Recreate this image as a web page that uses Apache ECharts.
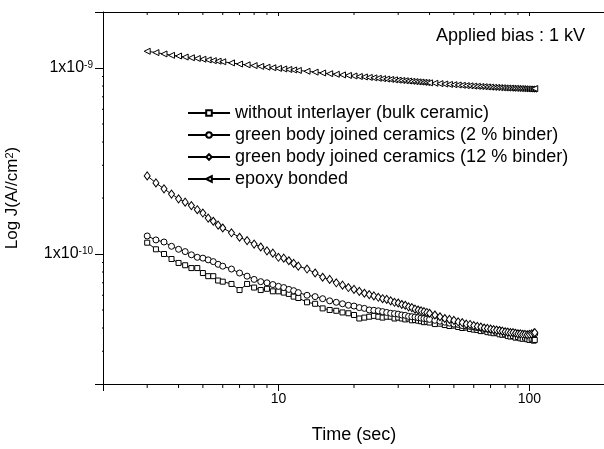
<!DOCTYPE html>
<html>
<head>
<meta charset="utf-8">
<title>Log J vs time</title>
<script src="https://cdn.jsdelivr.net/npm/echarts@6/dist/echarts.min.js"></script>
<style>
  html, body { margin: 0; padding: 0; background: #fff; }
  #chart { width: 604px; height: 449px; }
</style>
</head>
<body>
<div id="chart"></div>
<script>
// time (sec)
var time = [3, 3.25, 3.5, 3.75, 4, 4.25, 4.5, 4.75, 5, 5.25, 5.5, 5.75, 6,
  6.5, 7, 7.5, 8, 8.5, 9, 9.5, 10, 10.5, 11, 11.5, 12,
  13, 14, 15, 16, 17, 18, 19, 20, 21, 22, 23, 24, 25, 26, 27, 28, 29, 30,
  31, 32, 33, 34, 35, 36, 37, 38, 39, 40,
  42, 44, 46, 48, 50, 52, 54, 56, 58, 60, 62, 64, 66, 68, 70, 72, 74, 76, 78, 80,
  82, 84, 86, 88, 90, 92, 94, 96, 98, 100, 102, 104, 105];

// current density, unit = 1e-11 A/cm2
var bulk = [11.5, 10.6, 10.0, 9.4, 8.95, 8.7, 8.4, 8.4, 7.9, 7.6, 7.6, 7.2, 7.1,
  6.9, 6.4, 6.9, 6.6, 6.4, 6.5, 6.3, 6.3, 6.2, 6.1, 5.9, 5.8,
  5.5, 5.4, 5.1, 5.0, 4.95, 4.85, 4.8, 4.7, 4.5, 4.55, 4.6, 4.65, 4.6, 4.55, 4.6, 4.6, 4.5, 4.55,
  4.5, 4.45, 4.5, 4.4, 4.42, 4.38, 4.35, 4.3, 4.32, 4.28,
  4.2, 4.22, 4.15, 4.1, 4.12, 4.05, 4.0, 4.02, 3.95, 3.92, 3.9, 3.85, 3.88, 3.8, 3.78, 3.75, 3.78, 3.7, 3.68, 3.7,
  3.62, 3.6, 3.62, 3.55, 3.58, 3.52, 3.5, 3.55, 3.48, 3.45, 3.5, 3.42, 3.45];
var binder2 = [12.5, 11.9, 11.6, 11.0, 10.6, 10.3, 9.9, 9.6, 9.5, 9.3, 9.1, 8.8, 8.6,
  8.3, 7.9, 7.6, 7.3, 7.1, 7.0, 6.85, 6.7, 6.6, 6.45, 6.35, 6.2,
  6.0, 5.9, 5.75, 5.6, 5.5, 5.4, 5.3, 5.25, 5.15, 5.1, 5.0, 4.98, 4.95, 4.9, 4.85, 4.8, 4.78, 4.75,
  4.7, 4.68, 4.62, 4.6, 4.58, 4.55, 4.52, 4.5, 4.48, 4.45,
  4.4, 4.35, 4.3, 4.25, 4.2, 4.18, 4.12, 4.1, 4.08, 4.05, 4.02, 4.0, 3.98, 3.95, 3.92, 3.9, 3.9, 3.88, 3.85, 3.82,
  3.8, 3.8, 3.78, 3.75, 3.75, 3.72, 3.72, 3.7, 3.7, 3.68, 3.68, 3.7, 3.72];
var binder12 = [26.3, 24.1, 22.4, 21.0, 19.8, 19.0, 18.2, 17.3, 16.6, 15.6, 15.0, 14.3, 13.8,
  13.0, 12.3, 11.8, 11.3, 10.9, 10.4, 10.1, 9.6, 9.5, 9.2, 8.9, 8.6,
  8.3, 7.9, 7.5, 7.3, 7.0, 6.8, 6.6, 6.45, 6.3, 6.15, 6.05, 5.95, 5.85, 5.75, 5.7, 5.6, 5.5, 5.45,
  5.35, 5.3, 5.2, 5.15, 5.05, 5.0, 4.95, 4.9, 4.85, 4.8,
  4.7, 4.6, 4.5, 4.45, 4.4, 4.32, 4.28, 4.2, 4.18, 4.12, 4.08, 4.05, 4.0, 3.98, 3.95, 3.92, 3.9, 3.88, 3.85, 3.82,
  3.8, 3.78, 3.78, 3.75, 3.72, 3.72, 3.7, 3.7, 3.68, 3.7, 3.72, 3.75, 3.78];
var epoxy = [123, 121, 119, 117, 116, 114.5, 113.5, 112.5, 111.5, 110.5, 109.5, 108.8, 108,
  106.5, 105, 104, 103, 102, 101, 100.3, 99.5, 98.8, 98.2, 97.6, 97,
  96, 95, 94, 93.2, 92.5, 91.8, 91.2, 90.6, 90, 89.5, 89, 88.5, 88, 87.6, 87.2, 86.8, 86.4, 86,
  85.7, 85.4, 85.1, 84.8, 84.5, 84.2, 84, 83.7, 83.5, 83.2,
  82.8, 82.4, 82, 81.6, 81.3, 81, 80.7, 80.4, 80.2, 79.9, 79.7, 79.5, 79.3, 79.1, 78.9, 78.7, 78.6, 78.4, 78.3, 78.1,
  78, 77.9, 77.8, 77.7, 77.6, 77.5, 77.4, 77.3, 77.2, 77.1, 77, 77, 77.5];

var seriesNames = [
  'without interlayer (bulk ceramic)',
  'green body joined ceramics (2 % binder)',
  'green body joined ceramics (12 % binder)',
  'epoxy bonded'
];

// minor tick positions of the log axes
var xMinorTicks = [3, 4, 5, 6, 7, 8, 9, 20, 30, 40, 50, 60, 70, 80, 90];
var yMinorTicks = [3e-11, 4e-11, 5e-11, 6e-11, 7e-11, 8e-11, 9e-11,
  2e-10, 3e-10, 4e-10, 5e-10, 6e-10, 7e-10, 8e-10, 9e-10];

var X_MIN = 2, X_MAX = 200, Y_MIN = 2e-11, Y_MAX = 2e-9;
var FONT = 'Liberation Sans, Arial, Helvetica, sans-serif';

function toPairs(vals) {
  return time.map(function (t, i) { return [t, vals[i] * 1e-11]; });
}

function powerExp(v) {
  var e = Math.log10(v);
  return Math.abs(e - Math.round(e)) < 1e-6 ? Math.round(e) : null;
}

// short tick segments running from an axis edge, broken by '-' gaps
// (factor: how far the segment reaches in log units past the edge)
function xTickData(edge, factor) {
  var d = [];
  xMinorTicks.forEach(function (v) {
    d.push([v, edge], [v, edge * factor], [v, '-']);
  });
  return d;
}
function yTickData(edge, factor) {
  var d = [];
  yMinorTicks.forEach(function (v) {
    d.push([edge, v], [edge * factor, v], ['-', v]);
  });
  return d;
}
function tickSeries(data) {
  return {
    type: 'line',
    data: data,
    symbol: 'none',
    connectNulls: false,
    clip: false,
    silent: true,
    lineStyle: { color: '#000', width: 1 },
    emphasis: { disabled: true },
    z: 5,
    animation: false
  };
}

var symbols = [
  { symbol: 'rect', size: 5, rotate: 0 },
  { symbol: 'circle', size: 6, rotate: 0 },
  { symbol: 'diamond', size: [6, 8], rotate: 0 },
  { symbol: 'triangle', size: 6, rotate: 90 }
];
var values = [bulk, binder2, binder12, epoxy];

var lineSeries = values.map(function (vals, i) {
  return {
    name: seriesNames[i],
    type: 'line',
    data: toPairs(vals),
    symbol: symbols[i].symbol,
    symbolSize: symbols[i].size,
    symbolRotate: symbols[i].rotate,
    showAllSymbol: true,
    lineStyle: { color: '#000', width: 1 },
    itemStyle: { color: '#fff', borderColor: '#000', borderWidth: 1 },
    emphasis: { disabled: true },
    animation: false
  };
});

var chart = echarts.init(document.getElementById('chart'), null, { renderer: 'canvas' });
chart.setOption({
  backgroundColor: '#fff',
  animation: false,
  textStyle: { fontFamily: FONT, color: '#000' },
  title: {
    text: 'Applied bias : 1 kV',
    right: 14,
    top: 22,
    textStyle: { fontFamily: FONT, fontSize: 18, fontWeight: 'normal', color: '#000' }
  },
  legend: {
    data: seriesNames,
    orient: 'vertical',
    left: 182,
    top: 99,
    itemWidth: 42,
    itemHeight: 7,
    itemGap: 4,
    textStyle: { fontFamily: FONT, fontSize: 18, color: '#000' },
    selectedMode: false
  },
  grid: { left: 103, top: 12, width: 502, height: 372, outerBoundsMode: 'none' },
  xAxis: [{
    type: 'log',
    position: 'bottom',
    min: X_MIN,
    max: X_MAX,
    name: 'Time (sec)',
    nameLocation: 'middle',
    nameGap: 42,
    nameTextStyle: { fontFamily: FONT, fontSize: 18, color: '#000' },
    axisLine: { lineStyle: { color: '#000', width: 1 } },
    axisTick: { inside: false, length: 7, lineStyle: { color: '#000' } },
    axisLabel: {
      fontFamily: FONT, fontSize: 14, color: '#000', margin: 8,
      formatter: function (v) { return powerExp(v) === null ? '' : String(Math.round(v)); }
    },
    splitLine: { show: false }
  }, {
    type: 'log',
    position: 'top',
    min: X_MIN,
    max: X_MAX,
    axisLine: { lineStyle: { color: '#000', width: 1 } },
    axisTick: { inside: true, length: 4, lineStyle: { color: '#000' } },
    axisLabel: { show: false },
    splitLine: { show: false }
  }],
  yAxis: {
    type: 'log',
    position: 'left',
    min: Y_MIN,
    max: Y_MAX,
    name: 'Log J(A//cm{sup|2})',
    nameLocation: 'middle',
    nameGap: 82,
    nameTextStyle: {
      fontFamily: FONT, fontSize: 17, color: '#000',
      rich: { sup: { fontFamily: FONT, fontSize: 11, verticalAlign: 'top', padding: [0, 0, 6, 0] } }
    },
    axisLine: { lineStyle: { color: '#000', width: 1 } },
    axisTick: { inside: false, length: 8, lineStyle: { color: '#000' } },
    axisLabel: {
      fontFamily: FONT, fontSize: 16, color: '#000', margin: 10,
      formatter: function (v) {
        var e = powerExp(v);
        return e === null ? '' : '1x10{sup|' + e + '}';
      },
      rich: { sup: { fontFamily: FONT, fontSize: 10, verticalAlign: 'top', padding: [0, 0, 6, 0] } }
    },
    splitLine: { show: false }
  },
  series: lineSeries.concat([
    tickSeries(xTickData(Y_MIN, 0.952)),   // bottom, pointing down
    tickSeries(xTickData(Y_MAX, 0.964)),   // top, pointing into the plot
    tickSeries(yTickData(X_MIN, 0.955))    // left, pointing out
  ])
});
</script>
</body>
</html>
